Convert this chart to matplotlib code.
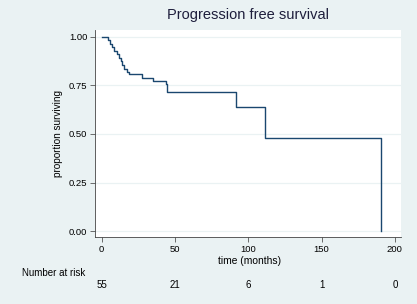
import matplotlib
matplotlib.use("Agg")
import matplotlib.pyplot as plt
from matplotlib.transforms import blended_transform_factory

plt.rcParams['font.family'] = ['Liberation Sans', 'DejaVu Sans']

# Kaplan-Meier step data
times = [0, 4.6, 5.7, 7.0, 8.5, 10.2, 11.5, 12.8, 14.0, 15.5, 17.0, 18.7,
         27.5, 35.0, 43.7, 44.7, 91.8, 111.4, 190.3]
surv = [1.0, 0.982, 0.964, 0.945, 0.927, 0.909, 0.891, 0.873, 0.855, 0.836,
        0.82, 0.81, 0.79, 0.77, 0.755, 0.718, 0.637, 0.478, 0.0]

xticks = [0, 50, 100, 150, 200]
yticks = [0.0, 0.25, 0.5, 0.75, 1.0]
at_risk = [55, 21, 6, 1, 0]

bg = '#EAF2F3'
navy = '#1A476F'

fig = plt.figure(figsize=(4.17, 3.04), dpi=100, facecolor=bg)
ax = fig.add_axes([95/417, 1-237/304, (401-95)/417, (237-30)/304])
ax.set_facecolor('white')

for y in yticks:
    ax.axhline(y, color=bg, lw=0.9, zorder=0)

ax.step(times, surv, where='post', color=navy, lw=1.0, zorder=3)

ax.set_xlim(-4.6, 204.2)
ax.set_ylim(-0.029, 1.034)
ax.set_xticks(xticks)
ax.set_yticks(yticks)
ax.set_yticklabels([f"{v:.2f}" for v in yticks])
ax.tick_params(axis='both', labelsize=6.8, color='#555555', length=3.5, width=0.6, pad=2)
for s in ['top', 'right']:
    ax.spines[s].set_visible(False)
for s in ['left', 'bottom']:
    ax.spines[s].set_color('#444444')
    ax.spines[s].set_linewidth(0.6)

ax.set_ylabel('proportion surviving', fontsize=7.2, labelpad=4)
ax.set_title('Progression free survival', fontsize=10.5, color='#1e1e3c', pad=8)

trans = blended_transform_factory(ax.transData, fig.transFigure)
fig.text(0.5974, 1-260.7/304, 'time (months)', ha='center', va='center', fontsize=7.4)
fig.text(21.7/417, 1-273.3/304, 'Number at risk', ha='left', va='center', fontsize=7.0)
for x, n in zip(xticks, at_risk):
    ax.text(x, 1-284.5/304, str(n), transform=trans, ha='center', va='center', fontsize=7.0)

fig.savefig('out.png', dpi=100, facecolor=bg)
